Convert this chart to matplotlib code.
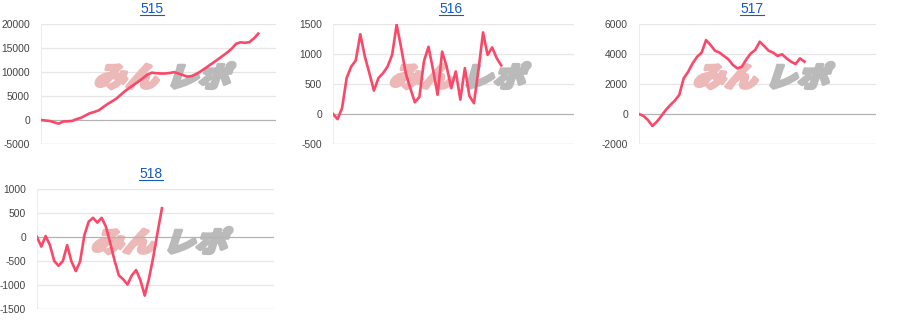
import numpy as np
import matplotlib
matplotlib.use("Agg")
import matplotlib.pyplot as plt
from matplotlib.textpath import TextPath
from matplotlib.font_manager import FontProperties
from matplotlib.patches import PathPatch
from matplotlib.transforms import Affine2D
from matplotlib.lines import Line2D

plt.rcParams['font.family'] = ['Liberation Sans', 'DejaVu Sans']
plt.rcParams['axes.unicode_minus'] = False

# machine numbers and their diff data (coins), one point per interval
titles = ["515", "516", "517", "518"]

diff_515 = [0, -100, -210, -490, -770, -300, -280, -200, 180, 460,
            930, 1410, 1670, 2000, 2670, 3310, 3880, 4450, 5280, 6060,
            6730, 7400, 8030, 8710, 9450, 9860, 9750, 9690, 9690, 9790,
            9960, 9680, 9370, 9030, 9170, 9550, 10130, 10770, 11400, 12040,
            12710, 13380, 14060, 14850, 15880, 16190, 16080, 16220, 16990, 17980]
diff_516 = [0, -85, 100, 600, 790, 890, 1330, 960, 680, 390,
            600, 680, 790, 985, 1490, 1100, 680, 430, 195, 285,
            880, 1120, 740, 320, 1040, 790, 430, 710, 240, 765,
            300, 180, 740, 1360, 985, 1110, 930, 810]
diff_517 = [0, -130, -400, -800, -510, -130, 270, 600, 890, 1270,
            2380, 2820, 3380, 3820, 4090, 4930, 4600, 4220, 4090, 3870,
            3640, 3270, 3040, 3160, 3640, 4040, 4270, 4820, 4530, 4220,
            4090, 3870, 3980, 3710, 3490, 3330, 3710, 3490]
diff_518 = [0, -200, 20, -170, -500, -600, -500, -170, -510, -710,
            -510, 40, 320, 400, 300, 400, 215, -130, -490, -800,
            -880, -990, -800, -690, -900, -1220, -860, -410, 110, 600]

ticks_515 = [-5000, 0, 5000, 10000, 15000, 20000]
ticks_516 = [-500, 0, 500, 1000, 1500]
ticks_517 = [-2000, 0, 2000, 4000, 6000]
ticks_518 = [-1500, -1000, -500, 0, 500, 1000]

series = [diff_515, diff_516, diff_517, diff_518]
ticks = [ticks_515, ticks_516, ticks_517, ticks_518]

# plot boxes in pixels: left, top, right, bottom
boxes = [(41, 24, 276, 144), (333, 24, 574, 144), (639, 24, 876, 144), (37, 189, 274, 309)]
title_pos = [(152, 13.3), (451, 13.3), (752, 13.3), (151, 178.5)]
x_right = [53, 53, 53, 55]

W, H = 900, 330
fig = plt.figure(figsize=(9, 3.3), dpi=100)

line_col = "#fb4869"
wm_font = FontProperties(family="Noto Sans CJK JP", weight="black")

for vals, tk, (l, t, r, b), xr in zip(series, ticks, boxes, x_right):
    ax = fig.add_axes([l / W, 1 - b / H, (r - l) / W, (b - t) / H])
    x = np.arange(len(vals))
    ax.plot(x, vals, color=line_col, lw=1.9, zorder=3)
    ax.set_xlim(0, xr)
    ax.set_ylim(tk[0], tk[-1])
    ax.set_yticks(tk)
    ax.set_xticks([])
    for v in tk:
        if v == 0:
            ax.axhline(v, color="#b3b3b3", lw=0.9, zorder=2)
        elif v == tk[0]:
            ax.axhline(v, color="#c6c6c6", lw=0.9, zorder=2)
        else:
            ax.axhline(v, color="#e6e6e6", lw=0.9, zorder=0)
    for s in ax.spines.values():
        s.set_visible(False)
    ax.axvline(0, color="#ececec", lw=1.4, zorder=0)
    ax.tick_params(axis="y", length=0, pad=8, labelsize=7.4, labelcolor="#444444")

    # watermark logo
    cx, cy = ax.transAxes.transform((0.53, 0.57))
    for txt, col, dx in [("みん", "#ecb8b8", -72), ("レポ", "#bababa", 0)]:
        tp = TextPath((0, 0), txt, size=29, prop=wm_font)
        tr = Affine2D().skew_deg(16, 0).scale(1.1, 0.95).translate(cx + dx, cy - 11)
        ax.add_patch(PathPatch(tp, transform=tr, fc=col, ec=col, lw=2.4,
                               joinstyle="round", zorder=1))

title_texts = []
for name, (tx, ty) in zip(titles, title_pos):
    t = fig.text(tx / W, 1 - ty / H, name, ha="center", va="baseline",
                 fontsize=10, color="#1558c8")
    title_texts.append(t)

fig.canvas.draw()
inv = fig.transFigure.inverted()
for t, (tx, ty) in zip(title_texts, title_pos):
    bb = t.get_window_extent().transformed(inv)
    yy = 1 - (ty + 1.8) / H
    fig.add_artist(Line2D([bb.x0, bb.x1], [yy, yy], transform=fig.transFigure,
                          color="#1558c8", lw=0.8))

fig.savefig("out.png", dpi=100, facecolor="white")
